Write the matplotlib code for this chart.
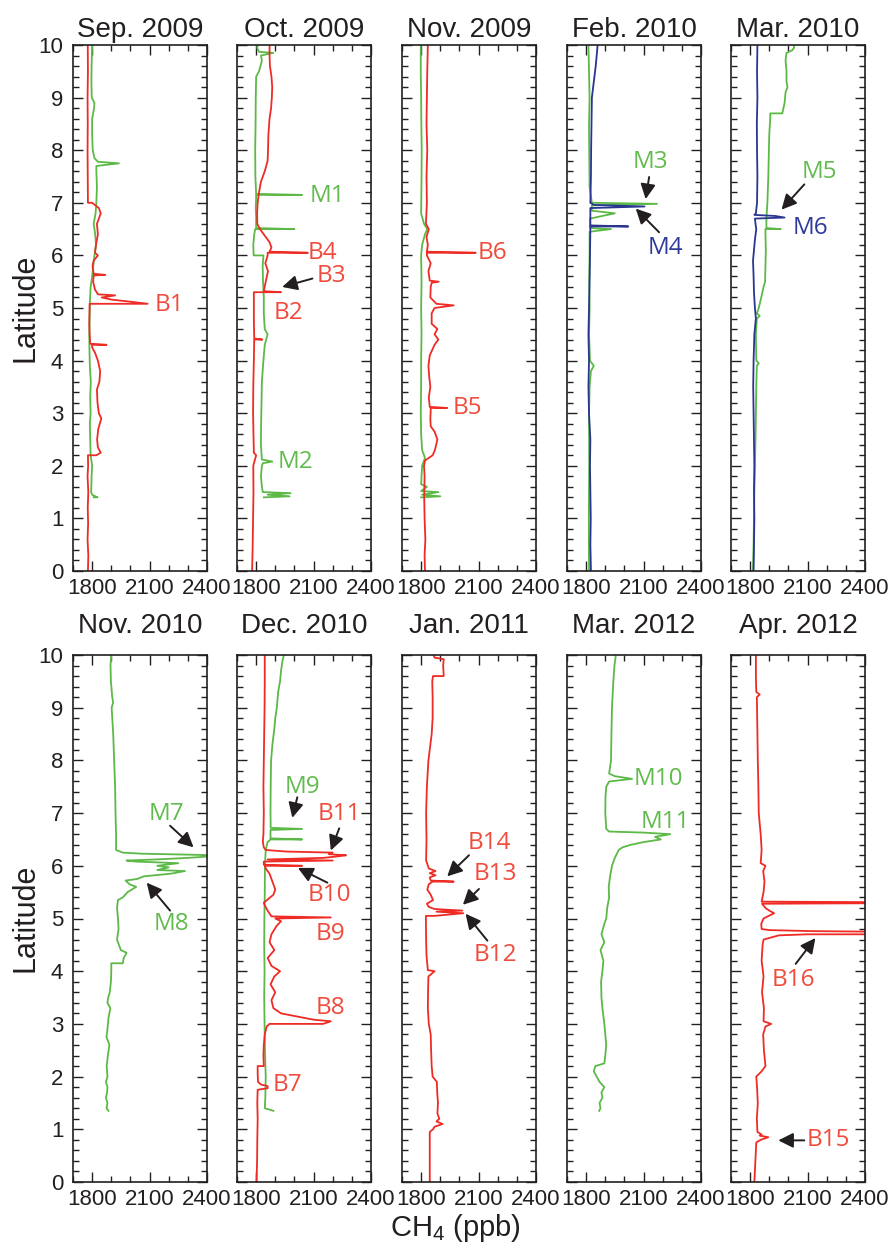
import matplotlib
matplotlib.use("Agg")
import matplotlib.pyplot as plt
from matplotlib.ticker import MultipleLocator, FixedLocator

plt.rcParams.update({"font.family": "Liberation Sans",
                     "mathtext.fontset": "custom",
                     "mathtext.rm": "Liberation Sans",
                     "mathtext.it": "Liberation Sans"})

RED, GREEN, BLUE = "#ee2b24", "#5cb947", "#2a3592"
RED_T, GREEN_T, BLUE_T = "#f04b3c", "#62bb4e", "#2e3a9a"

titles = ["Sep. 2009", "Oct. 2009", "Nov. 2009", "Feb. 2010", "Mar. 2010",
          "Nov. 2010", "Dec. 2010", "Jan. 2011", "Mar. 2012", "Apr. 2012"]

# ---- Sep. 2009 ----
sep09_red_lat = [0.0, 0.3, 0.6, 0.9, 1.2, 1.5, 1.8, 2.0, 2.2, 2.2, 2.25, 2.35, 2.5, 2.7, 2.9, 3.0, 3.2, 3.45,
                 3.6, 3.8, 4.0, 4.15, 4.25, 4.3, 4.3, 4.32, 4.5, 4.7, 4.9, 5.08, 5.08, 5.12, 5.16, 5.2, 5.24,
                 5.26, 5.35, 5.5, 5.62, 5.63, 5.65, 5.8, 5.9, 6.0, 6.05, 6.2, 6.4, 6.6, 6.8, 6.9, 7.0, 7.0,
                 7.5, 8.0, 8.5, 9.0, 9.5, 10.0]
sep09_red_ch4 = [1778, 1780, 1776, 1779, 1777, 1780, 1776, 1779, 1778, 1822, 1845, 1830, 1826, 1832, 1848, 1835,
                 1828, 1825, 1838, 1842, 1830, 1815, 1800, 1800, 1875, 1790, 1787, 1785, 1786, 1787, 2090, 2000,
                 1900, 1850, 1920, 1830, 1815, 1805, 1808, 1868, 1808, 1802, 1808, 1830, 1815, 1820, 1830, 1825,
                 1845, 1835, 1800, 1778, 1777, 1776, 1777, 1776, 1778, 1777]
sep09_green_lat = [1.4, 1.4, 1.45, 1.5, 1.8, 2.0, 2.2, 2.5, 2.8, 3.0, 3.3, 3.6, 3.9, 4.2, 4.5, 4.8, 5.1, 5.4,
                   5.6, 5.8, 6.0, 6.2, 6.4, 6.6, 6.8, 7.0, 7.3, 7.6, 7.7, 7.75, 7.78, 7.85, 8.0, 8.3, 8.6,
                   8.8, 8.9, 9.0, 9.3, 9.6, 10.0]
sep09_green_ch4 = [1808, 1828, 1800, 1795, 1797, 1800, 1792, 1790, 1788, 1792, 1790, 1793, 1788, 1786, 1785,
                   1787, 1788, 1792, 1800, 1806, 1812, 1820, 1816, 1808, 1818, 1822, 1825, 1822, 1822, 1940,
                   1830, 1812, 1803, 1800, 1800, 1810, 1812, 1798, 1796, 1797, 1800]

# ---- Oct. 2009 ----
oct09_red_lat = [0.0, 0.5, 1.0, 1.5, 2.0, 2.2, 2.25, 2.6, 3.0, 3.5, 4.0, 4.4, 4.4, 4.42, 4.8, 5.28, 5.3, 5.3,
                 5.32, 5.5, 5.7, 5.85, 6.0, 6.05, 6.05, 6.07, 6.15, 6.25, 6.35, 6.5, 6.6, 6.8, 7.0, 7.2, 7.4,
                 7.6, 7.8, 8.0, 8.3, 8.6, 8.8, 9.0, 9.2, 9.4, 9.6, 9.8, 10.0]
oct09_red_ch4 = [1779, 1782, 1784, 1786, 1785, 1800, 1788, 1786, 1784, 1785, 1788, 1790, 1832, 1790, 1788, 1788,
                 1788, 1930, 1840, 1850, 1862, 1848, 1860, 1860, 2070, 1870, 1880, 1870, 1850, 1820, 1806, 1805,
                 1808, 1815, 1825, 1845, 1860, 1862, 1864, 1870, 1878, 1882, 1884, 1880, 1872, 1870, 1870]
oct09_green_lat = [1.4, 1.42, 1.45, 1.48, 1.5, 1.6, 1.8, 2.0, 2.05, 2.08, 2.12, 2.4, 2.8, 3.2, 3.6, 4.0, 4.3,
                   4.5, 4.6, 4.9, 5.2, 5.5, 5.8, 6.0, 6.0, 6.2, 6.4, 6.5, 6.5, 6.52, 6.7, 6.9, 7.1, 7.15, 7.15,
                   7.17, 7.5, 8.0, 8.5, 9.0, 9.4, 9.5, 9.7, 9.8, 9.85, 9.87, 9.95, 10.0]
oct09_green_ch4 = [1840, 1975, 1860, 1980, 1835, 1830, 1825, 1830, 1835, 1885, 1830, 1825, 1826, 1828, 1830,
                   1838, 1845, 1860, 1845, 1840, 1840, 1836, 1834, 1838, 1787, 1785, 1790, 1795, 2000, 1800,
                   1800, 1798, 1800, 1800, 2040, 1800, 1796, 1795, 1797, 1798, 1800, 1815, 1830, 1825, 1890,
                   1815, 1805, 1810]

# ---- Nov. 2009 ----
nov09_red_lat = [0.0, 0.3, 0.6, 1.0, 1.4, 1.8, 2.0, 2.1, 2.2, 2.3, 2.5, 2.65, 2.75, 2.9, 3.05, 3.1, 3.1, 3.12,
                 3.3, 3.5, 3.7, 3.9, 4.1, 4.3, 4.4, 4.5, 4.6, 4.7, 4.9, 5.0, 5.05, 5.08, 5.2, 5.4, 5.48, 5.5,
                 5.52, 5.7, 5.85, 6.0, 6.05, 6.05, 6.07, 6.2, 6.35, 6.5, 6.6, 7.0, 7.5, 8.0, 8.5, 9.0, 9.5, 10.0]
nov09_red_ch4 = [1820, 1818, 1822, 1818, 1816, 1818, 1815, 1820, 1860, 1872, 1885, 1870, 1850, 1848, 1850, 1850,
                 1936, 1845, 1840, 1848, 1842, 1838, 1845, 1870, 1890, 1870, 1885, 1855, 1855, 1870, 1970, 1880,
                 1848, 1850, 1855, 1892, 1845, 1838, 1850, 1830, 1830, 2085, 1830, 1835, 1828, 1840, 1825, 1830,
                 1828, 1832, 1828, 1830, 1832, 1835]
nov09_green_lat = [1.4, 1.42, 1.45, 1.5, 1.52, 1.6, 1.65, 1.8, 2.0, 2.15, 2.3, 2.6, 3.0, 3.5, 4.0, 4.5, 5.0,
                   5.5, 6.0, 6.2, 6.4, 6.5, 6.6, 6.8, 7.5, 8.0, 8.5, 9.0, 9.5, 10.0]
nov09_green_ch4 = [1800, 1900, 1805, 1890, 1800, 1830, 1800, 1802, 1805, 1820, 1805, 1800, 1798, 1800, 1800,
                   1802, 1800, 1802, 1800, 1805, 1820, 1832, 1815, 1800, 1802, 1803, 1801, 1800, 1798, 1798]

# ---- Feb. 2010 ----
feb10_blue_lat = [0.0, 0.5, 1.0, 1.5, 2.0, 2.5, 3.0, 3.5, 4.0, 4.5, 5.0, 5.5, 6.0, 6.5, 6.55, 6.55, 6.57, 6.8,
                  6.9, 6.93, 6.96, 7.0, 7.5, 8.0, 8.5, 9.0, 9.3, 9.6, 9.8, 10.0]
feb10_blue_ch4 = [1825, 1822, 1824, 1822, 1820, 1822, 1815, 1812, 1815, 1812, 1815, 1818, 1820, 1822, 1822,
                  2020, 1822, 1822, 1822, 2105, 1840, 1822, 1825, 1826, 1828, 1830, 1840, 1850, 1855, 1860]
feb10_green_lat = [0.0, 1.0, 2.0, 3.0, 3.5, 3.8, 3.9, 4.0, 4.5, 5.0, 5.5, 6.0, 6.45, 6.5, 6.52, 6.7, 6.8, 6.85,
                   6.95, 6.98, 7.0, 7.3, 8.0, 8.5, 9.0, 9.5, 10.0]
feb10_green_ch4 = [1815, 1814, 1816, 1815, 1818, 1825, 1840, 1820, 1815, 1818, 1816, 1818, 1818, 1930, 1820,
                   1820, 1950, 1830, 1830, 2170, 1830, 1818, 1816, 1815, 1818, 1815, 1812]

# ---- Mar. 2010 ----
mar10_blue_lat = [0.0, 0.5, 1.0, 1.5, 2.0, 2.5, 3.0, 3.5, 4.0, 4.5, 4.8, 5.0, 5.3, 5.6, 5.9, 6.1, 6.3, 6.5, 6.6,
                  6.7, 6.72, 6.75, 6.77, 6.8, 7.0, 7.5, 8.0, 8.5, 9.0, 9.5, 10.0]
mar10_blue_ch4 = [1818, 1820, 1822, 1820, 1822, 1820, 1818, 1816, 1818, 1822, 1830, 1825, 1820, 1818, 1815, 1820,
                  1825, 1832, 1828, 1825, 1980, 1930, 1822, 1830, 1836, 1838, 1836, 1835, 1838, 1836, 1838]
mar10_green_lat = [0.0, 0.5, 1.0, 1.5, 2.0, 2.5, 3.0, 3.5, 3.9, 3.95, 4.0, 4.5, 4.8, 4.85, 4.9, 5.0, 5.2, 5.4,
                   5.5, 5.8, 6.1, 6.4, 6.5, 6.5, 6.52, 6.7, 7.0, 7.5, 8.0, 8.3, 8.6, 8.7, 8.7, 8.9, 9.1, 9.2,
                   9.3, 9.5, 9.7, 9.85, 9.9, 9.95, 10.0]
mar10_green_ch4 = [1815, 1818, 1820, 1822, 1825, 1828, 1830, 1832, 1835, 1845, 1832, 1830, 1835, 1850, 1835,
                   1845, 1858, 1870, 1878, 1880, 1882, 1880, 1880, 1960, 1885, 1885, 1890, 1895, 1898, 1900,
                   1905, 1905, 1968, 1980, 1985, 1995, 1990, 1990, 1985, 1990, 2020, 2030, 2028]

# ---- Nov. 2010 ----
nov10_green_lat = [1.35, 1.4, 1.5, 1.6, 1.7, 1.8, 1.9, 2.0, 2.2, 2.4, 2.6, 2.75, 2.9, 3.1, 3.3, 3.4, 3.5, 3.6,
                   3.8, 4.0, 4.15, 4.15, 4.25, 4.35, 4.4, 4.6, 4.8, 5.0, 5.2, 5.35, 5.4, 5.5, 5.6, 5.65, 5.72,
                   5.75, 5.8, 5.85, 5.9, 5.92, 5.97, 6.0, 6.05, 6.08, 6.1, 6.12, 6.15, 6.18, 6.2, 6.23, 6.25,
                   6.3, 6.6, 7.0, 7.5, 8.0, 8.5, 9.0, 9.1, 9.2, 9.5, 9.8, 10.0]
nov10_green_ch4 = [1885, 1875, 1880, 1872, 1878, 1880, 1872, 1880, 1876, 1882, 1890, 1875, 1880, 1885, 1895,
                   1880, 1884, 1892, 1898, 1900, 1900, 1960, 1965, 1980, 1950, 1930, 1938, 1935, 1930, 1935,
                   1960, 1985, 2030, 1995, 1975, 2035, 2070, 2210, 2285, 2140, 2200, 2140, 2250, 2030, 1980,
                   2130, 2300, 2420, 2450, 2060, 1960, 1925, 1925, 1922, 1920, 1915, 1910, 1902, 1910, 1905,
                   1898, 1896, 1900]

# ---- Dec. 2010 ----
dec10_red_lat = [0.0, 0.4, 0.8, 1.2, 1.5, 1.75, 1.78, 1.82, 1.85, 1.9, 2.05, 2.2, 2.2, 2.4, 2.6, 2.8, 2.95,
                 3.0, 3.0, 3.05, 3.08, 3.15, 3.2, 3.3, 3.45, 3.6, 3.75, 3.9, 4.0, 4.1, 4.25, 4.4, 4.55, 4.7,
                 4.85, 4.95, 5.0, 5.02, 5.04, 5.15, 5.25, 5.3, 5.45, 5.55, 5.7, 5.85, 5.95, 6.0, 6.0, 6.02,
                 6.08, 6.1, 6.12, 6.15, 6.18, 6.2, 6.22, 6.25, 6.27, 6.3, 6.35, 6.45, 6.6, 7.0, 7.5, 8.0, 8.5,
                 9.0, 9.5, 10.0]
dec10_red_ch4 = [1802, 1805, 1806, 1808, 1806, 1808, 1860, 1860, 1825, 1810, 1808, 1808, 1840, 1838, 1840, 1845,
                 1855, 1870, 2150, 2190, 2100, 2000, 1930, 1890, 1880, 1900, 1875, 1895, 1925, 1880, 1860, 1895,
                 1870, 1880, 1905, 1930, 1900, 2190, 1880, 1860, 1845, 1840, 1890, 1900, 1885, 1870, 1850, 1845,
                 2040, 1840, 1840, 2200, 1860, 2150, 2230, 2270, 2180, 2200, 1960, 1850, 1840, 1835, 1838, 1840,
                 1838, 1840, 1842, 1844, 1845, 1845]
dec10_green_lat = [1.35, 1.4, 1.6, 2.0, 2.5, 3.0, 3.5, 4.0, 4.5, 5.0, 5.5, 6.0, 6.3, 6.45, 6.5, 6.5, 6.52,
                   6.68, 6.7, 6.72, 7.0, 7.5, 8.0, 8.3, 8.6, 8.8, 9.0, 9.3, 9.5, 9.7, 9.9, 10.0]
dec10_green_ch4 = [1890, 1845, 1848, 1850, 1846, 1844, 1842, 1844, 1842, 1843, 1845, 1846, 1850, 1860, 1875,
                   2040, 1875, 1875, 2040, 1876, 1875, 1876, 1878, 1885, 1895, 1900, 1908, 1915, 1925, 1930,
                   1938, 1945]

# ---- Jan. 2011 ----
jan11_red_lat = [0.0, 0.5, 0.95, 1.0, 1.05, 1.1, 1.15, 1.2, 1.3, 1.5, 1.7, 1.9, 2.0, 2.2, 2.5, 2.8, 3.0, 3.3,
                 3.6, 3.9, 4.0, 4.02, 4.3, 4.6, 4.9, 5.05, 5.05, 5.1, 5.13, 5.15, 5.18, 5.22, 5.28, 5.35, 5.45,
                 5.55, 5.65, 5.7, 5.7, 5.72, 5.78, 5.82, 5.86, 5.9, 5.95, 6.1, 6.5, 7.0, 7.5, 8.0, 8.5, 8.8,
                 9.2, 9.5, 9.6, 9.6, 9.8, 9.92, 9.95, 10.0]
jan11_red_ch4 = [1845, 1845, 1845, 1862, 1870, 1912, 1880, 1895, 1885, 1888, 1884, 1882, 1860, 1855, 1852, 1850,
                 1840, 1835, 1836, 1838, 1870, 1835, 1828, 1826, 1825, 1825, 1870, 2020, 1880, 2015, 1870, 1840,
                 1830, 1862, 1850, 1832, 1840, 1860, 1970, 1850, 1845, 1875, 1845, 1875, 1840, 1826, 1828, 1826,
                 1830, 1838, 1855, 1860, 1860, 1858, 1862, 1918, 1915, 1918, 1870, 1865]

# ---- Mar. 2012 ----
mar12_green_lat = [1.35, 1.4, 1.5, 1.6, 1.7, 1.8, 1.9, 2.0, 2.1, 2.2, 2.25, 2.4, 2.6, 2.8, 3.0, 3.3, 3.5, 3.8,
                   4.0, 4.2, 4.4, 4.55, 4.7, 4.9, 5.0, 5.2, 5.4, 5.6, 5.8, 6.0, 6.15, 6.3, 6.35, 6.4, 6.45,
                   6.5, 6.55, 6.6, 6.63, 6.65, 6.7, 7.0, 7.3, 7.5, 7.6, 7.65, 7.7, 7.75, 8.0, 8.5, 9.0, 9.5,
                   9.8, 10.0]
mar12_green_ch4 = [1868, 1875, 1870, 1885, 1880, 1895, 1870, 1855, 1840, 1848, 1895, 1900, 1905, 1900, 1895,
                   1885, 1880, 1878, 1885, 1890, 1875, 1895, 1880, 1895, 1905, 1910, 1920, 1918, 1925, 1935,
                   1950, 1970, 1990, 2035, 2100, 2190, 2160, 2240, 2100, 1920, 1905, 1900, 1901, 1905, 1920,
                   2040, 1950, 1920, 1930, 1932, 1935, 1942, 1948, 1955]

# ---- Apr. 2012 ----
apr12_red_lat = [0.0, 0.3, 0.6, 0.75, 0.8, 0.85, 0.88, 0.9, 0.95, 1.2, 1.5, 1.8, 2.0, 2.1, 2.2, 2.5, 2.8, 2.95,
                 3.0, 3.05, 3.3, 3.6, 3.9, 4.2, 4.5, 4.6, 4.68, 4.7, 4.7, 4.75, 4.76, 4.78, 4.8, 4.9, 5.0, 5.1,
                 5.15, 5.2, 5.28, 5.29, 5.31, 5.32, 5.5, 5.7, 5.9, 6.0, 6.05, 6.3, 6.6, 7.0, 7.5, 8.0, 8.5,
                 9.0, 9.2, 9.25, 9.3, 9.6, 10.0]
apr12_red_ch4 = [1822, 1826, 1830, 1832, 1855, 1895, 1850, 1860, 1838, 1835, 1840, 1836, 1832, 1860, 1880, 1872,
                 1868, 1880, 1910, 1870, 1872, 1862, 1870, 1860, 1865, 1870, 1950, 2100, 2450, 2450, 2130, 1900,
                 1860, 1858, 1870, 1925, 1900, 1880, 1862, 2450, 2450, 1860, 1870, 1875, 1868, 1880, 1855, 1860,
                 1855, 1845, 1843, 1840, 1838, 1836, 1835, 1850, 1832, 1830, 1830]

series = [
    [(sep09_green_lat, sep09_green_ch4, GREEN), (sep09_red_lat, sep09_red_ch4, RED)],
    [(oct09_green_lat, oct09_green_ch4, GREEN), (oct09_red_lat, oct09_red_ch4, RED)],
    [(nov09_green_lat, nov09_green_ch4, GREEN), (nov09_red_lat, nov09_red_ch4, RED)],
    [(feb10_green_lat, feb10_green_ch4, GREEN), (feb10_blue_lat, feb10_blue_ch4, BLUE)],
    [(mar10_green_lat, mar10_green_ch4, GREEN), (mar10_blue_lat, mar10_blue_ch4, BLUE)],
    [(nov10_green_lat, nov10_green_ch4, GREEN)],
    [(dec10_green_lat, dec10_green_ch4, GREEN), (dec10_red_lat, dec10_red_ch4, RED)],
    [(jan11_red_lat, jan11_red_ch4, RED)],
    [(mar12_green_lat, mar12_green_ch4, GREEN)],
    [(apr12_red_lat, apr12_red_ch4, RED)],
]

# labels per panel: (text, colour, text position, arrow tail, arrow tip)
labels = [
    [("B1", RED_T, (2205, 5.05), None, None)],
    [("M1", GREEN_T, (2172, 7.13), None, None), ("B4", RED_T, (2146, 6.04), None, None),
     ("B3", RED_T, (2195, 5.6), (2094, 5.56), (1936, 5.40)), ("B2", RED_T, (1971, 4.9), None, None),
     ("M2", GREEN_T, (2006, 2.07), None, None)],
    [("B6", RED_T, (2172, 6.05), None, None), ("B5", RED_T, (2040, 3.1), None, None)],
    [("M3", GREEN_T, (2137, 7.78), (2129, 7.49), (2111, 7.07)),
     ("M4", BLUE_T, (2216, 6.15), (2181, 6.44), (2059, 6.89))],
    [("M5", GREEN_T, (2162, 7.58), (2083, 7.35), (1964, 6.87)), ("M6", BLUE_T, (2113, 6.52), None, None)],
    [("M7", GREEN_T, (2190, 6.98), (2207, 6.76), (2330, 6.35)),
     ("M8", GREEN_T, (2216, 4.89), (2207, 5.15), (2085, 5.68))],
    [("M9", GREEN_T, (2041, 7.5), (2015, 7.3), (1989, 6.91)), ("B11", RED_T, (2234, 6.98), (2234, 6.71), (2190, 6.29)),
     ("B10", RED_T, (2181, 5.45), (2172, 5.68), (2018, 5.96)), ("B9", RED_T, (2190, 4.7), None, None),
     ("B8", RED_T, (2190, 3.31), None, None), ("B7", RED_T, (1962, 1.85), None, None)],
    [("B14", RED_T, (2155, 6.43), (2050, 6.2), (1936, 5.8)), ("B13", RED_T, (2190, 5.84), (2102, 5.56), (2018, 5.26)),
     ("B12", RED_T, (2190, 4.3), (2146, 4.58), (2032, 5.09))],
    [("M10", GREEN_T, (2176, 7.65), None, None), ("M11", GREEN_T, (2216, 6.83), None, None)],
    [("B16", RED_T, (2024, 3.83), (2038, 4.14), (2141, 4.63)), ("B15", RED_T, (2206, 0.79), (2083, 0.79), (1947, 0.79))],
]

lefts = [73, 237, 402, 567, 731]
rows = [(45, 571), (655, 1182)]
W, H = 888, 1249

fig = plt.figure(figsize=(W / 100, H / 100), dpi=100)
for i in range(10):
    r, c = divmod(i, 5)
    top, bot = rows[r]
    ax = fig.add_axes([lefts[c] / W, 1 - bot / H, 134 / W, (bot - top) / H])
    for lat, ch4, col in series[i]:
        ax.plot(ch4, lat, color=col, lw=1.3)
    for txt, col, pos, tail, tip in labels[i]:
        ax.text(pos[0], pos[1], txt, color=col, fontsize=17.5, family="Open Sans",
                ha="center", va="center", clip_on=False)
        if tail is not None:
            ax.annotate("", xy=tip, xytext=tail, annotation_clip=False,
                        arrowprops=dict(arrowstyle="-|>,head_length=0.9,head_width=0.45",
                                        color="#231f20", lw=1.4, shrinkA=0, shrinkB=0))
    ax.set_xlim(1700, 2400)
    ax.set_ylim(0, 10)
    ax.xaxis.set_major_locator(FixedLocator([1800, 2100, 2400]))
    ax.xaxis.set_minor_locator(MultipleLocator(100))
    ax.yaxis.set_major_locator(MultipleLocator(1))
    ax.yaxis.set_minor_locator(MultipleLocator(0.2))
    ax.tick_params(which="both", direction="in", top=True, right=True, width=1.0, labelsize=16,
                   colors="#231f20")
    ax.tick_params(which="major", length=7)
    ax.tick_params(which="minor", length=4)
    ax.tick_params(axis="y", pad=7)
    ax.tick_params(axis="x", pad=5)
    if c != 0:
        ax.set_yticklabels([])
    for s in ax.spines.values():
        s.set_linewidth(1.2)
        s.set_color("#231f20")
    ax.set_title(titles[i], fontsize=20, color="#231f20", pad=6 if r == 0 else 16)

fig.text(25 / W, 1 - 308 / H, "Latitude", rotation=90, fontsize=22, ha="center", va="center", color="#231f20")
fig.text(25 / W, 1 - 918 / H, "Latitude", rotation=90, fontsize=22, ha="center", va="center", color="#231f20")
fig.text(455 / W, 1 - 1228 / H, "CH$_4$ (ppb)", fontsize=21, ha="center", va="center", color="#231f20")

fig.savefig("out.png", dpi=100)
